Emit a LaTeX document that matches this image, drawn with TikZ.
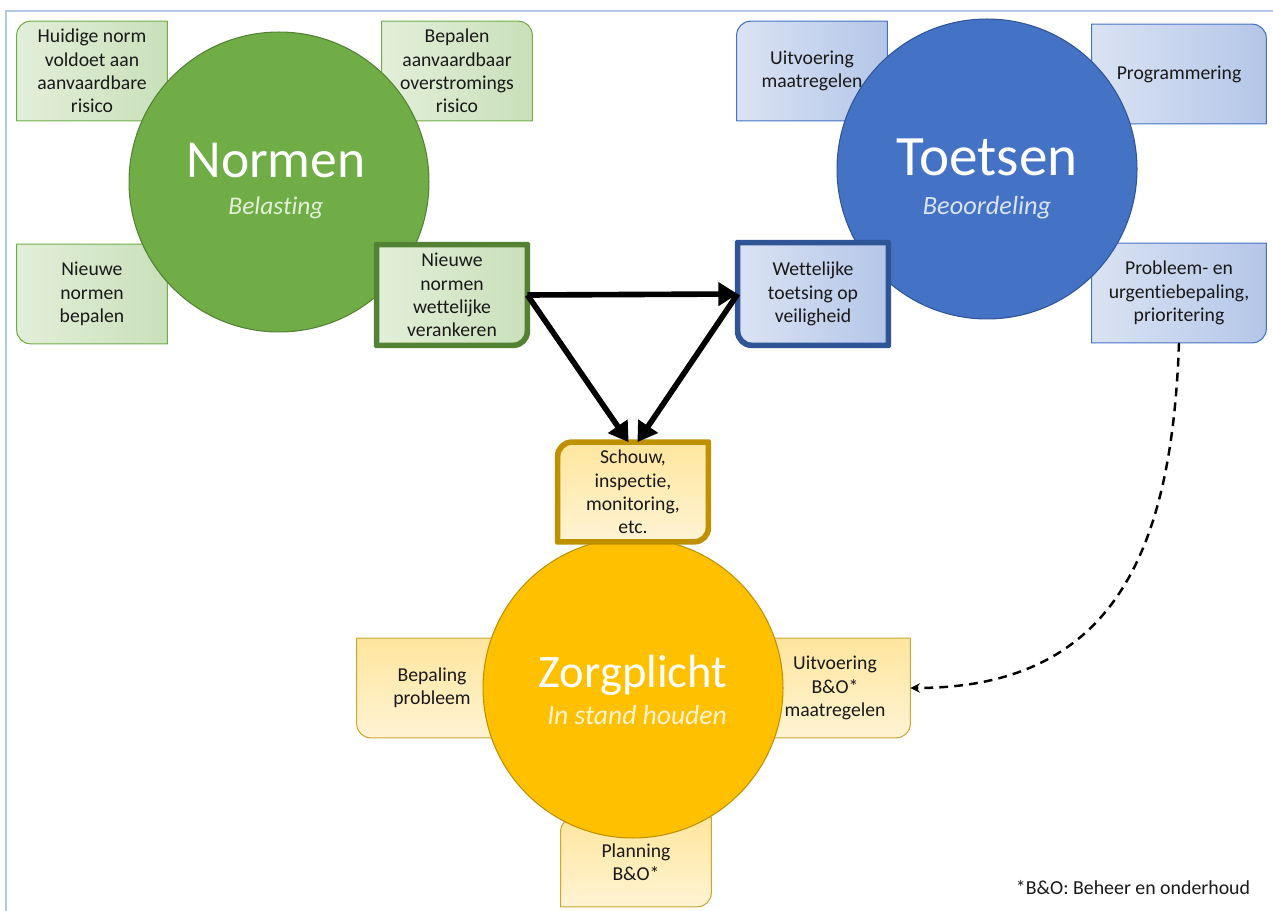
\documentclass[tikz,border=0pt]{standalone}
\usepackage{fontspec}
\setmainfont{Carlito}[Ligatures={NoCommon,NoRare,NoDiscretionary}]
\usetikzlibrary{arrows.meta}
\definecolor{normgreen}{HTML}{70AD47}
\definecolor{normdark}{HTML}{548235}
\definecolor{greenlight}{HTML}{E2EFD9}
\definecolor{greendark}{HTML}{C9E0BA}
\definecolor{toetsblue}{HTML}{4472C4}
\definecolor{toetsdark}{HTML}{2F5597}
\definecolor{bluelight}{HTML}{DAE3F3}
\definecolor{bluedark}{HTML}{B4C6E8}
\definecolor{zorggold}{HTML}{FFC000}
\definecolor{zorgdark}{HTML}{BF9000}
\definecolor{goldlight}{HTML}{FFF3D3}
\definecolor{golddark}{HTML}{FFE69E}
\definecolor{frameblue}{HTML}{B4C7E7}
\pgfdeclarelayer{back}
\pgfdeclarelayer{mid}
\pgfdeclarelayer{upper}
\pgfsetlayers{back,mid,upper,main}
\newcommand{\cornerbox}[6]{%
  \path[#1] ([xshift=#3]#2.north west) -- ([xshift=-#4]#2.north east)
    arc[start angle=90,end angle=0,radius=#4] -- ([yshift=#5]#2.south east)
    arc[start angle=0,end angle=-90,radius=#5] -- ([xshift=#6]#2.south west)
    arc[start angle=270,end angle=180,radius=#6] -- ([yshift=-#3]#2.north west)
    arc[start angle=180,end angle=90,radius=#3] -- cycle;}
\tikzset{
  box/.style={rectangle, inner sep=0pt, minimum width=3cm, minimum height=1.98cm,
    align=center, text=black!90, font=\fontsize{11.2}{13.2}\selectfont},
  greenbox/.style={draw=normgreen, line width=0.6pt, left color=greenlight, right color=greendark},
  bluebox/.style={draw=toetsblue, line width=0.6pt, left color=bluelight, right color=bluedark},
  goldbox/.style={draw=zorgdark!80, line width=0.6pt, top color=golddark, bottom color=goldlight},
  circ/.style={circle, minimum size=6cm, inner sep=0pt, line width=0.6pt},
  title/.style={text=white},
  subtitle/.style={font=\fontsize{14.5}{17}\selectfont\itshape},
  bigarrow/.style={line width=3.2pt, -{Triangle[length=11pt,width=13pt]}},
  dasharrow/.style={line width=1.4pt, dash pattern=on 5pt off 3.5pt, -{Stealth[length=5.5pt,width=5.5pt]}},
  frame/.style={draw=frameblue, line width=1.2pt}
}
\begin{document}
\begin{tikzpicture}[x=0.02cm, y=-0.02cm]
  \useasboundingbox (0,0) rectangle (1273,911);
  \draw[frame] (6,911) -- (6,11) -- (1273,11);

  \node[box] (huidig) at (92,71) {Huidige norm\\voldoet aan\\aanvaardbare\\risico};
  \node[box] (bepalen) at (457,71) {Bepalen\\aanvaardbaar\\overstromings\\risico};
  \node[box] (nieuwbep) at (92,294) {Nieuwe\\normen\\bepalen};
  \node[box, minimum height=2cm] (verank) at (452,295) {Nieuwe\\normen\\wettelijke\\verankeren};
  \node[box] (uitvmaat) at (812,71) {Uitvoering\\maatregelen};
  \node[box, minimum width=3.48cm] (program) at (1179,74) {Programmering};
  \node[box, minimum height=2.04cm] (wettelijk) at (813,294) {Wettelijke\\toetsing op\\veiligheid};
  \node[box, minimum width=3.48cm] (probleem) at (1179,293) {Probleem- en\\urgentiebepaling,\\prioritering};
  \node[box] (schouw) at (633,492) {Schouw,\\inspectie,\\monitoring,\\etc.};
  \node[box] (bepaling) at (432,688) {Bepaling\\probleem};
  \node[box] (uitvbo) at (835,688) {Uitvoering\\B\&O*\\maatregelen};
  \node[box, minimum height=1.78cm] (planning) at (636,862) {Planning\\B\&O*};
  \node[box, font=\fontsize{11.3}{13}\selectfont] (voetnoot) at (1133,888) {*B\&O: Beheer en onderhoud};

  \begin{pgfonlayer}{back}
    \cornerbox{greenbox}{huidig}{8pt}{0.01pt}{0.01pt}{0.01pt}
    \cornerbox{greenbox}{bepalen}{0.01pt}{8pt}{0.01pt}{0.01pt}
    \cornerbox{greenbox}{nieuwbep}{0.01pt}{0.01pt}{0.01pt}{8pt}
    \cornerbox{bluebox}{uitvmaat}{8pt}{0.01pt}{0.01pt}{0.01pt}
    \cornerbox{bluebox}{program}{0.01pt}{8pt}{0.01pt}{0.01pt}
    \cornerbox{bluebox}{probleem}{0.01pt}{0.01pt}{8pt}{0.01pt}
    \cornerbox{goldbox}{bepaling}{0.01pt}{0.01pt}{0.01pt}{8pt}
    \cornerbox{goldbox}{uitvbo}{0.01pt}{0.01pt}{8pt}{0.01pt}
    \cornerbox{goldbox}{planning}{8pt}{0.01pt}{8pt}{0.01pt}
  \end{pgfonlayer}

  \begin{pgfonlayer}{mid}
    \node[circ, fill=normgreen, draw=normdark] (normen) at (279,182) {};
    \node[circ, fill=toetsblue, draw=toetsdark] (toetsen) at (987,169) {};
    \node[circ, fill=zorggold, draw=zorgdark] (zorg) at (633,688) {};
  \end{pgfonlayer}

  \begin{pgfonlayer}{upper}
    \cornerbox{greenbox, draw=normdark, line width=3.2pt}{verank}{0.01pt}{0.01pt}{8pt}{0.01pt}
    \cornerbox{bluebox, draw=toetsdark, line width=3.2pt}{wettelijk}{0.01pt}{0.01pt}{0.01pt}{8pt}
    \cornerbox{goldbox, draw=zorgdark, line width=3.2pt}{schouw}{8pt}{0.01pt}{8pt}{0.01pt}
  \end{pgfonlayer}

  \node[title, font=\fontsize{30.5}{36}\selectfont] (normtitel) at (276,160) {Normen};
  \node[subtitle, text=greenlight] (normsub) at (276,208) {Belasting};
  \node[title, font=\fontsize{32.5}{38}\selectfont] (toetstitel) at (987,157) {Toetsen};
  \node[subtitle, text=bluelight, font=\fontsize{15}{17}\selectfont\itshape] (toetssub) at (987,208) {Beoordeling};
  \node[title, font=\fontsize{26.5}{32}\selectfont] (zorgtitel) at (633,675) {Zorgplicht};
  \node[subtitle, text=goldlight, font=\fontsize{15.7}{18}\selectfont\itshape] (zorgsub) at (637,715) {In stand houden};

  \draw[bigarrow] (verank.east) -- (wettelijk.west);
  \draw[bigarrow] (verank.east) -- ([xshift=-2.5pt]schouw.north);
  \draw[bigarrow] (wettelijk.west) -- ([xshift=2.5pt]schouw.north);
  \draw[dasharrow] (probleem.south) to[out=-92, in=0, looseness=1.2] (uitvbo.east);
\end{tikzpicture}
\end{document}
